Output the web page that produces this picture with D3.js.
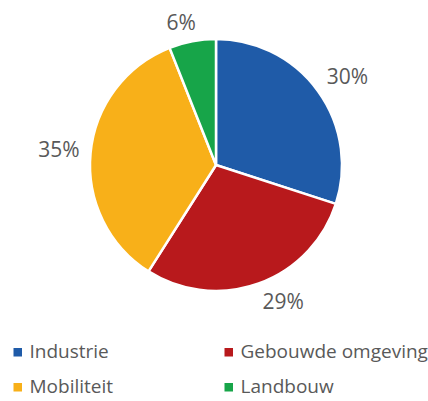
<!DOCTYPE html>
<html><head><meta charset="utf-8">
<script src="https://cdn.jsdelivr.net/npm/d3@7/dist/d3.min.js"></script>
<style>body{margin:0;background:#fff}svg{display:block}</style>
</head><body>
<svg id="c" width="428" height="401"></svg>
<script>
const categories = ["Industrie", "Gebouwde omgeving", "Mobiliteit", "Landbouw"];
const values = [30, 29, 35, 6];
const colors = ["#1f5ba8", "#b8191c", "#f8b019", "#17a549"];

const svg = d3.select("#c");
const cx = 216, cy = 165, R = 126, LR = 137;
const font = "'Open Sans', 'Noto Sans', sans-serif";
const labelSize = 21;
const pie = d3.pie().sort(null).value(d => d)(values);
const arc = d3.arc().innerRadius(0).outerRadius(R);
const g = svg.append("g").attr("transform", `translate(${cx},${cy})`);
g.selectAll("path").data(pie).enter().append("path")
  .attr("d", arc).attr("fill", (d, i) => colors[i])
  .attr("stroke", "#fff").attr("stroke-width", 2.5);
const clamp = v => Math.max(-1, Math.min(1, v));
g.selectAll("text").data(pie).enter().append("text")
  .attr("text-anchor", "middle").attr("dy", "0.36em")
  .attr("font-family", font).attr("font-size", labelSize).attr("fill", "#595959")
  .text(d => d.data + "%")
  .attr("transform", function(d) {
    const a = (d.startAngle + d.endAngle) / 2;
    const w = this.getComputedTextLength(), h = labelSize * 0.72;
    const px = LR * Math.sin(a), py = -LR * Math.cos(a);
    const x = px + w / 2 * clamp(Math.sin(a) / 0.3);
    const y = py - h / 2 * clamp(Math.cos(a) / 0.3);
    return `translate(${x},${y})`;
  });

const lx = [13, 224], ly = [358, 393];
const leg = svg.selectAll("g.leg").data(categories).enter().append("g")
  .attr("transform", (d, i) => `translate(${lx[i % 2]},${ly[Math.floor(i / 2)]})`);
leg.append("rect").attr("x", 0.5).attr("y", -10).attr("width", 8.5).attr("height", 8.5)
  .attr("fill", (d, i) => colors[i]);
leg.append("text").attr("x", 16.5).attr("y", 0)
  .attr("font-family", font).attr("font-size", 19).attr("fill", "#595959")
  .text(d => d);
</script>
</body></html>
